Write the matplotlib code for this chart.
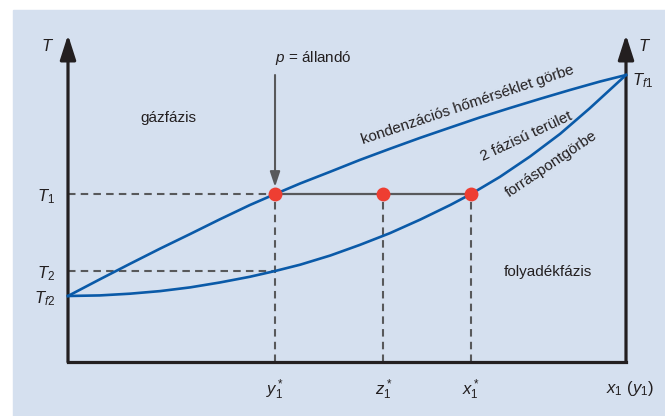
import matplotlib
matplotlib.use("Agg")
import matplotlib.pyplot as plt
from matplotlib.patches import Rectangle

plt.rcParams['font.family'] = ['Liberation Sans', 'DejaVu Sans']
plt.rcParams['mathtext.fontset'] = 'custom'
plt.rcParams['mathtext.rm'] = 'Liberation Sans'
plt.rcParams['mathtext.it'] = 'Liberation Sans:italic'

# composition (mole fraction) and temperature of the two phase boundaries
dew_x = [0.000, 0.057, 0.111, 0.165, 0.219, 0.272, 0.326, 0.371, 0.416, 0.470,
         0.523, 0.577, 0.631, 0.685, 0.738, 0.792, 0.846, 0.900, 0.953, 1.000]
dew_T = [23.0, 28.8, 34.2, 39.5, 44.6, 49.7, 54.7, 58.5, 62.2, 66.3,
         70.4, 74.3, 78.1, 81.7, 85.2, 88.5, 91.7, 94.8, 97.7, 100.0]
bubble_x = [0.000, 0.057, 0.111, 0.165, 0.219, 0.272, 0.326, 0.371, 0.416, 0.470,
            0.523, 0.577, 0.631, 0.685, 0.722, 0.774, 0.828, 0.882, 0.935, 1.000]
bubble_T = [23.0, 23.2, 23.8, 24.7, 26.0, 27.7, 29.7, 31.7, 33.9, 37.1,
            40.8, 44.9, 49.6, 54.7, 58.5, 64.5, 71.6, 79.5, 88.4, 100.0]

# tie line at T1: vapour, feed and liquid compositions
tie_x = [0.371, 0.565, 0.722]
tie_labels = [r'$y_1^*$', r'$z_1^*$', r'$x_1^*$']
T1 = 58.5
T2 = 31.7
Tf1 = 100.0
Tf2 = 23.0
temp_ticks = [T1, T2, Tf2]
temp_labels = [r'$T_1$', r'$T_2$', r'$T_{f2}$']

BG = '#d5e0ef'
BLUE = '#0a5aa8'
RED = '#ee3e32'
GREY = '#58595b'
INK = '#231f20'
FS = 11
MFS = 12

fig = plt.figure(figsize=(6.65, 4.16), dpi=100)
fig.patches.append(Rectangle((13 / 665, 0), 1 - 13 / 665, 406 / 416,
                             transform=fig.transFigure, color=BG, zorder=-5))

ax = fig.add_axes([68 / 665, 54 / 416, 558 / 665, 287 / 416])
ax.set_facecolor('none')
ax.set_xlim(0, 1)
ax.set_ylim(0, 100)
for side in ['top', 'right', 'left']:
    ax.spines[side].set_visible(False)
ax.spines['bottom'].set_linewidth(2.3)
ax.spines['bottom'].set_color(INK)

ax.set_xticks(tie_x, tie_labels, fontsize=MFS, color=INK)
ax.set_yticks(temp_ticks, temp_labels, fontsize=MFS, color=INK)
ax.tick_params(axis='x', length=0, pad=11)
ax.tick_params(axis='y', length=0, pad=9)

# temperature axes with arrow heads on both sides
for xa in [0, 1]:
    ax.annotate('', xy=(xa, 114), xytext=(xa, 0), annotation_clip=False,
                arrowprops=dict(arrowstyle='-|>,head_length=1.25,head_width=0.4',
                                mutation_scale=12, lw=2.3, color=INK,
                                shrinkA=0, shrinkB=0))
ax.text(-0.037, 110, r'$T$', fontsize=MFS, color=INK, ha='center', va='center')
ax.text(1.034, 110, r'$T$', fontsize=MFS, color=INK, ha='center', va='center')
ax.text(1.011, 98, r'$T_{f1}$', fontsize=MFS, color=INK, ha='left', va='center', clip_on=False)

# guide lines
dash = dict(color=GREY, lw=1.5, ls=(0, (3.6, 2.5)), zorder=2)
ax.plot([0, tie_x[0]], [T1, T1], **dash)
ax.plot([0, tie_x[0]], [T2, T2], **dash)
for xv in tie_x:
    ax.plot([xv, xv], [0, T1], **dash)
ax.plot([tie_x[0], tie_x[-1]], [T1, T1], color=GREY, lw=1.6, zorder=2)

# phase boundaries
curve = dict(color=BLUE, lw=1.9, zorder=3, clip_on=False, solid_joinstyle='round')
ax.plot(dew_x, dew_T, **curve)
ax.plot(bubble_x, bubble_T, **curve)

ax.plot(tie_x, [T1] * len(tie_x), 'o', color=RED, ms=10, mec='none', zorder=4)

# constant pressure arrow
ax.annotate('', xy=(tie_x[0], T1 + 2.5), xytext=(tie_x[0], Tf1), annotation_clip=False,
            arrowprops=dict(arrowstyle='-|>,head_length=0.9,head_width=0.3',
                            mutation_scale=10, lw=1.5, color=GREY,
                            shrinkA=0, shrinkB=0))
ax.text(tie_x[0], 106, r'$p$ = állandó', fontsize=FS, color=INK, ha='left', va='center')

ax.text(0.179, 85, 'gázfázis', fontsize=FS, color=INK, ha='center', va='center')
ax.text(0.860, 31.4, 'folyadékfázis', fontsize=FS, color=INK, ha='center', va='center')
ax.text(0.717, 89.5, 'kondenzációs hőmérséklet görbe', fontsize=FS, color=INK,
        ha='center', va='center', rotation=18.5, rotation_mode='anchor')
ax.text(0.822, 78.6, '2 fázisú terület', fontsize=FS, color=INK,
        ha='center', va='center', rotation=25, rotation_mode='anchor')
ax.text(0.866, 68.8, 'forráspontgörbe', fontsize=FS, color=INK,
        ha='center', va='center', rotation=34, rotation_mode='anchor')
ax.text(1.007, -9.3, r'$x_1\ (y_1)$', fontsize=MFS, color=INK, ha='center', va='center',
        clip_on=False)

fig.savefig('out.png', dpi=100)
